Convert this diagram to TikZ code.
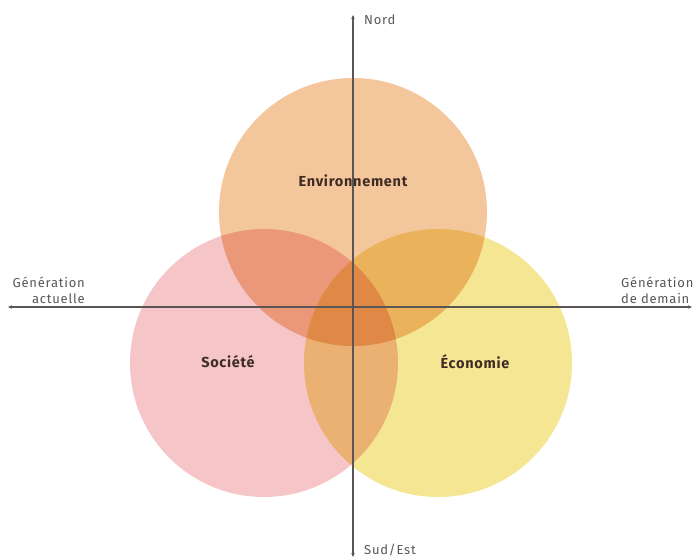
\documentclass[tikz,border=0pt]{standalone}
\usepackage{fontspec}
\setmainfont{Fira Sans}
\usetikzlibrary{arrows.meta}
\definecolor{envfill}{HTML}{F4C69C}
\definecolor{socfill}{HTML}{F5C5C7}
\definecolor{ecofill}{HTML}{F5E694}
\definecolor{axisgray}{HTML}{5A5656}
\definecolor{labelbrown}{HTML}{3F2C24}

\tikzset{
  axis/.style={draw=axisgray, line width=1.1pt, {Stealth[length=4pt,width=3.5pt]}-{Stealth[length=4pt,width=3.5pt]}},
  pillar/.style={font=\bfseries\fontsize{14.5}{16}\selectfont\addfontfeatures{LetterSpace=5}, text=labelbrown},
  direction/.style={font=\fontsize{13}{16}\selectfont\addfontfeatures{LetterSpace=6}, text=axisgray, inner sep=0pt}
}

\begin{document}
\begin{tikzpicture}[x=1pt,y=-1pt]
  \useasboundingbox (0,0) rectangle (696,559);
  % the three spheres
  \begin{scope}[blend group=multiply]
    \fill[envfill] (353,212) circle (134pt);
    \fill[socfill] (264,363) circle (134pt);
    \fill[ecofill] (438,363) circle (134pt);
  \end{scope}
  % axes
  \coordinate (N) at (353,15);
  \coordinate (S) at (353,557);
  \coordinate (W) at (8,307);
  \coordinate (E) at (692,307);
  \draw[axis] (W) -- (E);
  \draw[axis] (S) -- (N);
  \node[direction, anchor=west] (nord) at (364,20) {Nord};
  \node[direction, anchor=west] (sud) at (364,550) {Sud/Est};
  \node[direction, anchor=east, align=right] (today) at (85,290) {Génération\\actuelle};
  \node[direction, anchor=west, align=left] (tomorrow) at (621,290) {Génération\\de demain};
  % labels
  \node[pillar] (env) at (353,181) {Environnement};
  \node[pillar] (soc) at (228,362) {Société};
  \node[pillar] (eco) at (475,362) {Économie};
\end{tikzpicture}
\end{document}
